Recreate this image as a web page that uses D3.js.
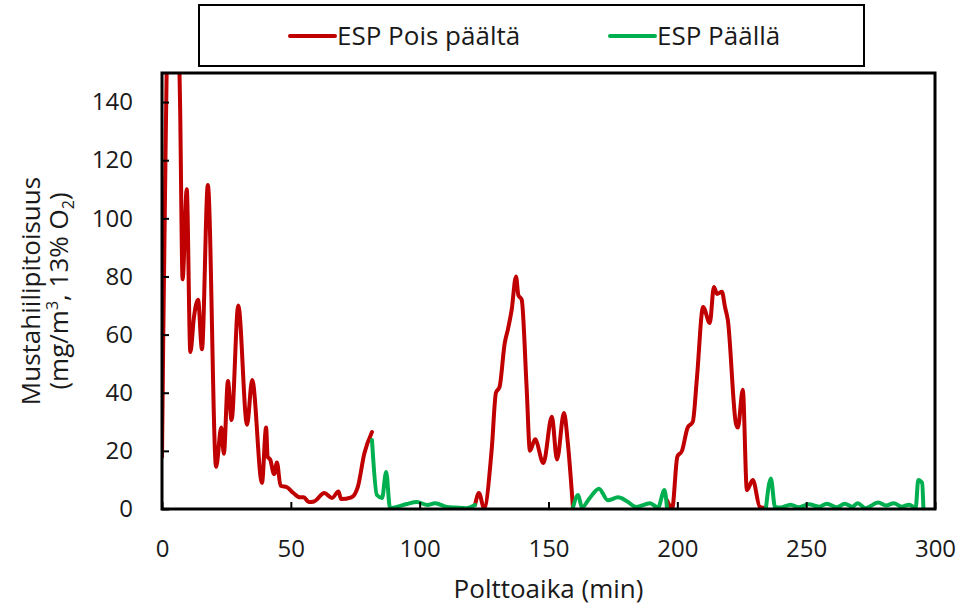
<!DOCTYPE html>
<head>
  <meta charset="utf-8">
  <title>Mustahiilipitoisuus</title>
  <script src="https://cdnjs.cloudflare.com/ajax/libs/d3/7.8.5/d3.min.js"></script>
  <style>
    body { margin: 0; background: #fff; }
    text { font-family: "Open Sans", sans-serif; fill: #1a1a1a; }
  </style>
</head>
<body>
<div id="chart"></div>
<script>
  // ESP pois päältä (red), null = gap
  var redTime = [0, 0.5, 1.2, 1.8, 3, 6, 7, 8, 9.6, 11, 12.4, 14, 15.5, 17.8, 21, 23, 24, 25.6, 27, 29.6, 33, 35,
    38.8, 40.4, 41, 42, 43.5, 44.6, 46, 48.5, 51, 53.5, 55, 57, 59, 63, 66, 68.5, 69.5, 73.5, 76, 78.5, 81.5,
    null,
    121.5, 123, 125, 128, 129.6, 131, 133, 134.3, 135.7, 137.4, 138.3, 139.6, 141.5, 142.8, 144.8, 148, 151.3,
    153.3, 156, 157.5, 159.5,
    null,
    196, 198, 200, 201.8, 204, 206, 207.6, 210, 212.6, 214.2, 215.4, 217.3, 218.5, 219.6, 222.7, 223.5, 225.4,
    227, 229.3, 232, 234.4];
  var redValue = [18, 60, 110, 150, 175, 175, 140, 79, 110, 54, 66, 72, 55, 111.5, 14.5, 28, 19, 44, 30.6, 70, 29, 44.4,
    9, 28, 18, 17, 12, 16, 8, 7.5, 5.5, 4, 4, 2.4, 2.6, 5.5, 3.8, 6, 3.4, 4, 7.6, 19, 26.5,
    null,
    1.4, 5.5, 0.3, 21, 40, 42, 57, 62, 68.5, 80, 73.6, 72, 42, 20, 24, 15.8, 31.7,
    17, 33, 22.7, 0.3,
    null,
    3, 0.3, 18, 20, 28, 30, 45, 69.5, 64, 76.4, 74, 74.7, 69.5, 65, 29.6, 28, 41,
    6.5, 10, 0.7, 0.3];

  // ESP päällä (green)
  var greenTime = [81.5, 83.4, 85.4, 87, 88.5, 91, 95, 99, 103, 106, 110.6, 114, 118, 121.5,
    null,
    159.5, 161.5, 163, 166, 169.6, 173, 177, 180.4, 184, 189.4, 192.5, 195, 196,
    null,
    234.4, 236.3, 237.9, 240, 244, 247, 251, 255, 258, 262, 265, 268, 270, 273, 278, 281, 284, 287, 290,
    292.5, 293.5, 295, 295.5];
  var greenValue = [23.7, 4.8, 3.8, 12.7, 0.3, 0.7, 1.7, 2.4, 1.4, 2, 0.7, 0.5, 0.3, 1.4,
    null,
    0.5, 4.8, 0.5, 3.8, 7, 3, 4, 2.7, 0.7, 2, 0.5, 6.5, 0.3,
    null,
    0.3, 10.5, 0.7, 0.5, 1.5, 0.6, 1.6, 0.8, 1.8, 0.6, 1.8, 0.8, 2, 0.3, 2.2, 1.2, 2, 0.8, 1.5,
    0.4, 10, 9, 0.3];

  var xTicks = [0, 50, 100, 150, 200, 250, 300];
  var yTicks = [0, 20, 40, 60, 80, 100, 120, 140];
  var seriesNames = ["ESP Pois päältä", "ESP Päällä"];
  var seriesColors = ["#C00000", "#00B050"];

  var W = 977, H = 608;
  var margin = {top: 73, right: 42, bottom: 99, left: 162};
  var width = W - margin.left - margin.right,
      height = H - margin.top - margin.bottom;

  var svg = d3.select("#chart").append("svg")
    .attr("width", W).attr("height", H);

  var g = svg.append("g")
    .attr("transform", "translate(" + margin.left + "," + margin.top + ")");

  var x = d3.scaleLinear().domain([0, 300]).range([0, width]);
  var y = d3.scaleLinear().domain([0, 150]).range([height, 0]);

  g.append("clipPath").attr("id", "clip")
    .append("rect").attr("width", width).attr("height", height);

  function toPoints(ts, vs) {
    return ts.map(function(t, i) { return {t: t, v: vs[i]}; });
  }

  var line = d3.line()
    .defined(function(d) { return d.t !== null && d.v !== null; })
    .curve(d3.curveMonotoneX)
    .x(function(d) { return x(d.t); })
    .y(function(d) { return y(d.v); });

  var series = [toPoints(redTime, redValue), toPoints(greenTime, greenValue)];

  g.append("g").attr("clip-path", "url(#clip)")
    .selectAll("path").data(series).enter().append("path")
    .attr("fill", "none")
    .attr("stroke", function(d, i) { return seriesColors[i]; })
    .attr("stroke-width", 4)
    .attr("stroke-linejoin", "round")
    .attr("stroke-linecap", "round")
    .attr("d", line);

  // axes with inward ticks
  var xAxis = g.append("g")
    .attr("transform", "translate(0," + height + ")")
    .call(d3.axisBottom(x).tickValues(xTicks).tickSize(-7).tickPadding(31));
  var yAxis = g.append("g")
    .call(d3.axisLeft(y).tickValues(yTicks).tickSize(-7).tickPadding(29));

  [xAxis, yAxis].forEach(function(a) {
    a.select(".domain").remove();
    a.selectAll("line").attr("stroke", "#000").attr("stroke-width", 2);
    a.selectAll("text").style("font-size", "24px").attr("fill", "#1a1a1a");
  });

  // frame
  g.append("rect")
    .attr("width", width).attr("height", height)
    .attr("fill", "none").attr("stroke", "#000").attr("stroke-width", 3);

  // axis titles
  svg.append("text")
    .attr("x", margin.left + width / 2).attr("y", 598)
    .attr("text-anchor", "middle").style("font-size", "26px")
    .text("Polttoaika (min)");

  var cy = margin.top + height / 2;
  svg.append("text")
    .attr("transform", "translate(40," + cy + ") rotate(-90)")
    .attr("text-anchor", "middle").style("font-size", "26px")
    .text("Mustahiilipitoisuus");
  var l2 = svg.append("text")
    .attr("transform", "translate(68," + cy + ") rotate(-90)")
    .attr("text-anchor", "middle").style("font-size", "26px");
  l2.append("tspan").text("(mg/m");
  l2.append("tspan").attr("dy", -10).style("font-size", "16px").text("3");
  l2.append("tspan").attr("dy", 10).text(", 13% O");
  l2.append("tspan").attr("dy", 6).style("font-size", "16px").text("2");
  l2.append("tspan").attr("dy", -6).text(")");

  // legend
  var leg = svg.append("g");
  leg.append("rect")
    .attr("x", 199).attr("y", 5).attr("width", 665).attr("height", 61)
    .attr("fill", "#fff").attr("stroke", "#000").attr("stroke-width", 2);
  var legX = [290, 610];
  seriesNames.forEach(function(name, i) {
    leg.append("line")
      .attr("x1", legX[i]).attr("x2", legX[i] + 45)
      .attr("y1", 36).attr("y2", 36)
      .attr("stroke", seriesColors[i]).attr("stroke-width", 4)
      .attr("stroke-linecap", "round");
    leg.append("text")
      .attr("x", legX[i] + 47).attr("y", 45)
      .style("font-size", "26px")
      .text(name);
  });
</script>
</body>
